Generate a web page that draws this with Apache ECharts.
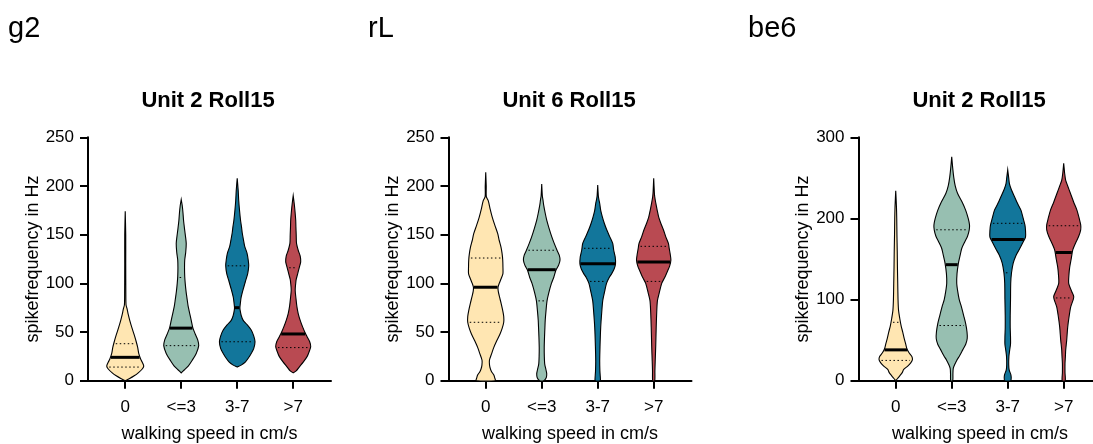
<!DOCTYPE html>
<html><head><meta charset="utf-8">
<script src="https://cdn.jsdelivr.net/npm/echarts@6/dist/echarts.min.js"></script>
<style>html,body{margin:0;padding:0;background:#fff}#c{width:1093px;height:444px}</style>
</head><body><div id="c"></div>
<script>
const categories = ['0', '<=3', '3-7', '>7'];
const panelLabels = ['g2', 'rL', 'be6'];
const panelTitles = ['Unit 2 Roll15', 'Unit 6 Roll15', 'Unit 2 Roll15'];
const yTicksMax = [250, 250, 300];
const yTicksStep = [50, 50, 100];
const yName = 'spikefrequency in Hz';
const xName = 'walking speed in cm/s';

// violin profiles: [spike frequency (Hz), relative density]
const g2_0 = [[0,0],[2,4],[5,9],[8,13],[12,17],[15,18.5],[18,17.5],[22,15.5],[28,13.5],[34,12.5],[40,11],[47,9],[55,6.5],[62,4.5],[68,3],[74,1.8],[78,0.8],[90,0.6],[120,0.5],[150,0.5],[174,0]];
const g2_1 = [[8,0],[11,3],[15,7],[21,11],[28,15],[36,17.5],[42,16.5],[48,14],[54,11.7],[62,10],[69,8.5],[76,7],[83,6],[92,4.8],[100,4],[107,3.5],[116,3.3],[124,3.5],[132,4.5],[141,5],[148,4.3],[156,3.3],[165,2.3],[172,1.8],[180,1],[186,0]];
const g2_2 = [[14,0],[16,4],[19,8],[23,11],[28,14],[33,16.5],[40,17.8],[46,16.5],[52,14],[58,9.5],[62,6],[67,4],[72,3],[75,2.7],[80,3.2],[86,4],[94,6],[103,8.5],[110,10.5],[118,11.5],[124,11],[131,9.8],[138,7.5],[145,6.2],[152,5],[158,4.3],[165,3.3],[175,2.3],[185,1.5],[195,1],[208,0]];
const g2_3 = [[8,0],[10,3],[14,6],[19,10],[25,14],[30,16],[35,17.5],[40,16.5],[45,14],[49,12],[55,9.5],[62,7],[69,5],[76,3.7],[84,2.8],[93,2],[100,2.5],[104,3],[110,4.5],[116,6],[122,7.5],[128,7],[134,5],[141,3.3],[150,3],[158,2.7],[165,2.5],[175,1.7],[182,1],[190,0]];
const g2_stats = [[14,24,38],[36,54,106],[40,75,118],[34,48,116]]; // q1, median, q3

const rL_0 = [[0,9.5],[3,9],[6,8],[9,6],[12,4.7],[16,3.8],[21,3.7],[28,6],[34,8],[41,11],[48,14.3],[54,16.5],[60,18],[66,18],[72,17],[79,15.5],[86,13.8],[92,12.5],[96,12.3],[100,13.5],[105,15.5],[110,17.2],[117,17.2],[124,17],[131,16.3],[137,15.3],[144,13.5],[151,12],[160,9],[168,6.5],[176,4.5],[185,2.5],[189,0.6],[200,0.5],[214,0]];
const rL_1 = [[0,2],[3,4.5],[7,5],[11,4.3],[17,3],[25,2.6],[34,2.5],[45,2.8],[55,3.2],[62,3.5],[72,4.3],[82,5.3],[90,7],[100,9.7],[106,12],[113,14],[119,17],[124,18.3],[129,17.5],[134,15.3],[141,12.5],[148,10],[156,7.5],[165,5],[172,3.5],[180,2],[186,1.2],[190,0.6],[202,0]];
const rL_2 = [[0,2.5],[5,2.5],[10,2.2],[20,2],[35,2.3],[55,3],[70,4],[82,5],[92,7],[100,8.8],[106,11.5],[110,14],[115,16.5],[120,17.8],[127,17.5],[134,16],[141,15],[148,12],[155,9],[162,6.5],[168,4.7],[175,3],[182,2],[186,1.2],[190,0.6],[201,0]];
const rL_3 = [[0,1],[10,1.2],[20,1.5],[35,2],[55,2.5],[70,3],[82,3.7],[90,5.5],[100,8],[106,11],[113,14],[118,16],[124,17.2],[130,16.5],[136,15.5],[141,14.7],[148,12],[155,9.7],[162,7],[168,5],[175,3.5],[183,2],[189,1],[194,0.6],[208,0]];
const rL_stats = [[60,96,126],[82,114,134],[102,120,136],[102,122,138]];

const be6_0 = [[0,0],[3,2],[6,4],[10,6.5],[14,8],[18,12],[22,15],[26,16.7],[30,16],[35,13],[40,11],[46,9.8],[52,8.5],[60,7],[67,5.5],[77,4],[87,2.8],[100,2.3],[120,2],[140,1.7],[160,1.5],[180,1.2],[200,1],[215,0.7],[234,0]];
const be6_1 = [[0,1],[8,1.2],[15,1.5],[20,3],[25,5],[31,8],[38,11],[45,14],[52,15.5],[60,15.3],[70,14],[80,12],[91,9.7],[100,7.5],[110,6],[120,5],[132,5.3],[145,6.7],[155,8.5],[163,10],[171,13],[178,15.8],[186,17.5],[192,17.8],[200,16.5],[210,14],[220,10.5],[231,5.8],[240,3.5],[251,2],[262,1],[276,0]];
const be6_2 = [[0,3],[4,3.5],[8,3],[13,1.5],[20,1],[30,1.2],[38,2],[45,2.8],[54,2.8],[65,2.5],[80,2.5],[100,2.8],[120,3],[133,3.8],[145,5.5],[155,8.5],[162,11.7],[170,15],[177,17.8],[185,17.8],[192,17.2],[200,15.5],[210,13.3],[218,10],[227,6.7],[236,3.5],[243,1.7],[250,1],[260,0]];
const be6_3 = [[0,1.5],[10,1.3],[21,1.3],[30,1.7],[38,2],[50,3],[66,4],[80,5.5],[91,7],[100,9.5],[104,10],[110,8],[120,5],[130,5.2],[140,6],[150,7.5],[161,9],[170,12],[178,15],[186,17],[192,17],[200,15.5],[210,13.3],[220,10],[231,6.7],[240,4],[247,2],[255,1],[268,0]];
const be6_stats = [[25,38,72],[68,143,186],[133,174,194],[102,158,191]];

const profiles = [[g2_0,g2_1,g2_2,g2_3],[rL_0,rL_1,rL_2,rL_3],[be6_0,be6_1,be6_2,be6_3]];
const stats = [g2_stats, rL_stats, be6_stats];

const colors = ['#FFE6B2', '#97BFB1', '#12769B', '#B94A52'];
const FONT = '"Liberation Sans", Arial, Helvetica, sans-serif';
const gridLefts = [88, 448.5, 858.5];
const titleX = [208, 569, 979];
const labelX = [8, 368, 748];

function hwAt(profile, v) {
  for (let i = 0; i < profile.length - 1; i++) {
    const a = profile[i], b = profile[i + 1];
    if (v >= a[0] && v <= b[0]) return a[1] + (b[1] - a[1]) * (v - a[0]) / (b[0] - a[0]);
  }
  return 0;
}

function makeRender(p) {
  return function (params, api) {
    const idx = api.value(0);
    const prof = profiles[p][idx];
    const st = stats[p][idx];
    const cx = api.coord([idx, 0])[0];
    const scale = api.size([1, 0])[0] / 56;
    const right = prof.map(d => [cx + d[1] * scale, api.coord([idx, d[0]])[1]]);
    const left = prof.slice().reverse().map(d => [cx - d[1] * scale, api.coord([idx, d[0]])[1]]);
    const children = [{
      type: 'polygon',
      shape: { points: right.concat(left), smooth: 0.25 },
      style: { fill: colors[idx], stroke: '#000', lineWidth: 1.1 }
    }];
    st.forEach((v, k) => {
      const y = api.coord([idx, v])[1];
      const hw = hwAt(prof, v) * scale;
      if (k === 1) {
        children.push({ type: 'line', shape: { x1: cx - hw + 0.5, y1: y, x2: cx + hw - 0.5, y2: y },
          style: { stroke: '#000', lineWidth: 3 } });
      } else {
        children.push({ type: 'line', shape: { x1: cx - hw + 2, y1: y, x2: cx + hw - 2, y2: y },
          style: { stroke: '#000', lineWidth: 1, lineDash: [1.5, 2.5] } });
      }
    });
    return { type: 'group', children };
  };
}

const grids = [], xAxes = [], yAxes = [], series = [], graphics = [];
for (let p = 0; p < 3; p++) {
  grids.push({ left: gridLefts[p], top: 137.3, width: 243, height: 243.4,
    containLabel: false, outerBoundsMode: 'none' });
  xAxes.push({
    type: 'value', gridIndex: p, min: -0.665, max: 3.675,
    splitLine: { show: false },
    axisLine: { show: true, onZero: false, lineStyle: { color: '#000', width: 2 } },
    axisTick: { show: true, customValues: [0, 1, 2, 3], length: 8, lineStyle: { color: '#000', width: 2 } },
    axisLabel: { show: true, customValues: [0, 1, 2, 3], formatter: v => categories[Math.round(v)],
      color: '#000', fontSize: 17, fontFamily: FONT, margin: 18 },
    name: xName, nameLocation: 'middle', nameGap: 44,
    nameTextStyle: { color: '#000', fontSize: 18, fontFamily: FONT }
  });
  yAxes.push({
    type: 'value', gridIndex: p, min: 0, max: yTicksMax[p], interval: yTicksStep[p],
    splitLine: { show: false },
    axisLine: { show: true, onZero: false, lineStyle: { color: '#000', width: 2 } },
    axisTick: { show: true, length: 8, lineStyle: { color: '#000', width: 2 } },
    axisLabel: { color: '#000', fontSize: 17, fontFamily: FONT, margin: 14 },
    name: yName, nameLocation: 'middle', nameGap: 40,
    nameTextStyle: { color: '#000', fontSize: 18, fontFamily: FONT }
  });
  series.push({
    type: 'custom', xAxisIndex: p, yAxisIndex: p, clip: false,
    renderItem: makeRender(p),
    data: categories.map((c, i) => [i]),
    silent: true, animation: false
  });
  graphics.push({ type: 'text', x: titleX[p], y: 101,
    style: { text: panelTitles[p], align: 'center', verticalAlign: 'middle',
      font: 'bold 22px ' + FONT, fill: '#000' } });
  graphics.push({ type: 'text', x: labelX[p], y: 29,
    style: { text: panelLabels[p], align: 'left', verticalAlign: 'middle',
      font: '29px ' + FONT, fill: '#000' } });
}

const chart = echarts.init(document.getElementById('c'), null, { renderer: 'canvas' });
chart.setOption({
  animation: false,
  backgroundColor: '#fff',
  grid: grids, xAxis: xAxes, yAxis: yAxes, series, graphic: graphics
});
</script>
</body></html>
